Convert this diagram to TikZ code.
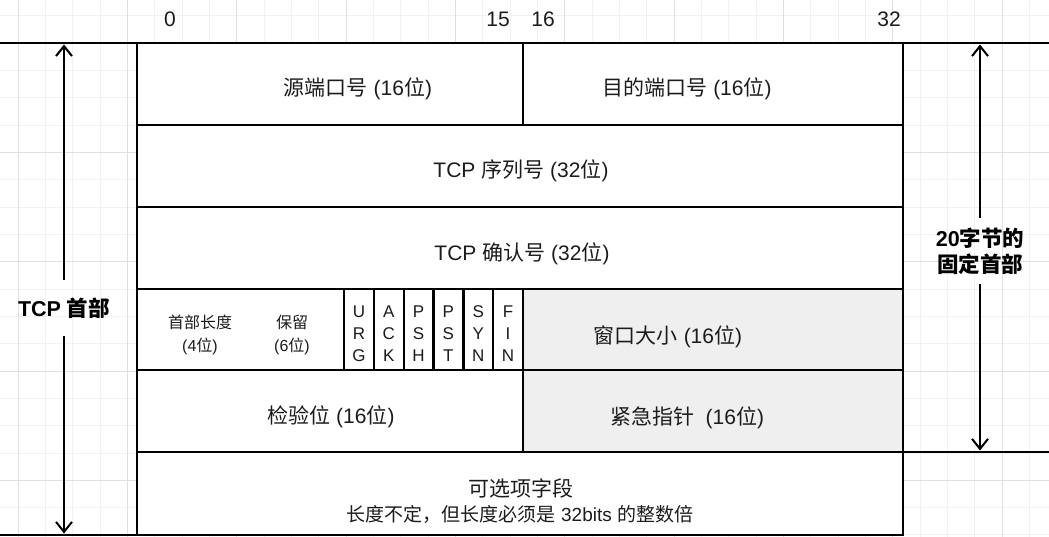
\documentclass[tikz,border=0pt]{standalone}
\usepackage{fontspec}
\setmainfont{Liberation Sans}
\newfontfamily\cjk{Noto Sans CJK SC}
\newcommand\zh[1]{{\cjk #1}}
\usetikzlibrary{arrows.meta}
\definecolor{gridminor}{RGB}{241,241,241}
\definecolor{gridmajor}{RGB}{224,224,224}
\definecolor{cellgray}{RGB}{239,239,239}
\definecolor{ink}{RGB}{28,28,28}
\tikzset{
  gminor/.style={draw=gridminor, line width=0.9pt},
  gmajor/.style={draw=gridmajor, line width=0.9pt},
  frame/.style={draw=black, line width=2.3pt},
  cell/.style={rectangle, draw=black, line width=2.3pt, fill=white, inner sep=0pt, outer sep=0pt},
  graycell/.style={cell, fill=cellgray},
  big/.style={font=\fontsize{21}{25}\selectfont, text=ink, inner sep=0pt},
  small/.style={font=\fontsize{16}{20}\selectfont, text=ink, inner sep=0pt, align=center},
  flagtxt/.style={font=\fontsize{17}{22}\selectfont, text=ink, inner sep=0pt, align=center},
  bold/.style={font=\fontsize{21.5}{26}\selectfont\bfseries, text=black, align=center, inner xsep=2pt},
  arr/.style={draw=black, line width=2pt, -{Straight Barb[length=10pt,width=16pt,line width=2pt]}},
}
\begin{document}
\begin{tikzpicture}[x=1pt,y=-1pt]
\useasboundingbox (0,0) rectangle (1049,537);
\fill[white] (0,0) rectangle (1049,537);
% grid
\foreach \i in {-1,...,38} {\draw[gminor] ({18.2+27.33*\i},0) -- ({18.2+27.33*\i},537);}
\foreach \i in {-1,...,19} {\draw[gminor] (0,{43+27.33*\i}) -- (1049,{43+27.33*\i});}
\foreach \i in {0,...,9} {\draw[gmajor] ({18.2+109.32*\i},0) -- ({18.2+109.32*\i},537);}
\foreach \i in {0,...,4} {\draw[gmajor] (0,{43+109.32*\i}) -- (1049,{43+109.32*\i});}

% bit numbers
\node[big] (b0) at (170,19) {0};
\node[big] (b15) at (498,19) {15};
\node[big] (b16) at (543,19) {16};
\node[big] (b32) at (889,19) {32};

% cells
\node[cell, minimum width=386, minimum height=82] (src) at (330,84) {};
\node[cell, minimum width=380, minimum height=82] (dst) at (713,84) {};
\node[cell, minimum width=766, minimum height=82] (seq) at (520,166) {};
\node[cell, minimum width=766, minimum height=82] (ackn) at (520,248) {};
\node[cell, minimum width=207, minimum height=81] (hlen) at (240.5,329.5) {};
\node[cell, minimum width=29.83, minimum height=81] (furg) at (358.9,329.5) {};
\node[cell, minimum width=29.83, minimum height=81] (fack) at (388.8,329.5) {};
\node[cell, minimum width=29.83, minimum height=81] (fpsh) at (418.6,329.5) {};
\node[cell, minimum width=29.83, minimum height=81] (frst) at (448.4,329.5) {};
\node[cell, minimum width=29.83, minimum height=81] (fsyn) at (478.3,329.5) {};
\node[cell, minimum width=29.83, minimum height=81] (ffin) at (508.1,329.5) {};
\node[graycell, minimum width=380, minimum height=81] (win) at (713,329.5) {};
\node[cell, minimum width=386, minimum height=82] (chk) at (330,411) {};
\node[graycell, minimum width=380, minimum height=82] (urgp) at (713,411) {};
\node[cell, minimum width=766, minimum height=83] (opt) at (520,493.5) {};

% cell texts
\node[big] (tsrc) at (358,89) {\zh{源端口号} (16\zh{位})};
\node[big] (tdst) at (687,89) {\zh{目的端口号} (16\zh{位})};
\node[big] (tseq) at (521,171) {TCP \zh{序列号} (32\zh{位})};
\node[big] (tack) at (522,254) {TCP \zh{确认号} (32\zh{位})};
\node[small] (thlen) at (200,335) {\zh{首部长度}\\[3pt](4\zh{位})};
\node[small] (tres) at (292,335) {\zh{保留}\\[3pt](6\zh{位})};
\node[flagtxt] at (furg) [yshift=-4] {U\\R\\G};
\node[flagtxt] at (fack) [yshift=-4] {A\\C\\K};
\node[flagtxt] at (fpsh) [yshift=-4] {P\\S\\H};
\node[flagtxt] at (frst) [yshift=-4] {P\\S\\T};
\node[flagtxt] at (fsyn) [yshift=-4] {S\\Y\\N};
\node[flagtxt] at (ffin) [yshift=-4] {F\\I\\N};
\node[big] (twin) at (668,337) {\zh{窗口大小} (16\zh{位})};
\node[big] (tchk) at (331,417) {\zh{检验位} (16\zh{位})};
\node[big] (turg) at (687,418) {\zh{紧急指针}\ \ (16\zh{位})};
\node[big] (topt1) at (521,488) {\zh{可选项字段}};
\node[big, font=\fontsize{19}{22}\selectfont] (topt2) at (520,514) {\zh{长度不定，但长度必须是} 32bits \zh{的整数倍}};

% frame lines
\coordinate (tl) at (0,43);
\coordinate (tr) at (1049,43);
\coordinate (bl) at (0,535);
\coordinate (br) at (903,535);
\coordinate (ml) at (903,452);
\coordinate (mr) at (1049,452);
\draw[frame] (tl) -- (tr);
\draw[frame] (bl) -- (br);
\draw[frame] (ml) -- (mr);
\draw[frame] (137,43) -- (137,535);
\draw[frame] (903,43) -- (903,535);

% TCP header arrow
\coordinate (lt) at (64,44.5);
\coordinate (lb) at (64,533.5);
\node[bold, inner ysep=17pt] (tcp) at (64,308) {TCP \zh{首部}};
\draw[arr] (tcp.north) -- (lt);
\draw[arr] (tcp.south) -- (lb);

% fixed header arrow
\coordinate (rt) at (980,44.5);
\coordinate (rb) at (980,450.5);
\node[bold, inner ysep=9pt] (fix) at (980,251) {20\zh{字节的}\\\zh{固定首部}};
\draw[arr] (fix.north) -- (rt);
\draw[arr] (fix.south) -- (rb);
\end{tikzpicture}
\end{document}
